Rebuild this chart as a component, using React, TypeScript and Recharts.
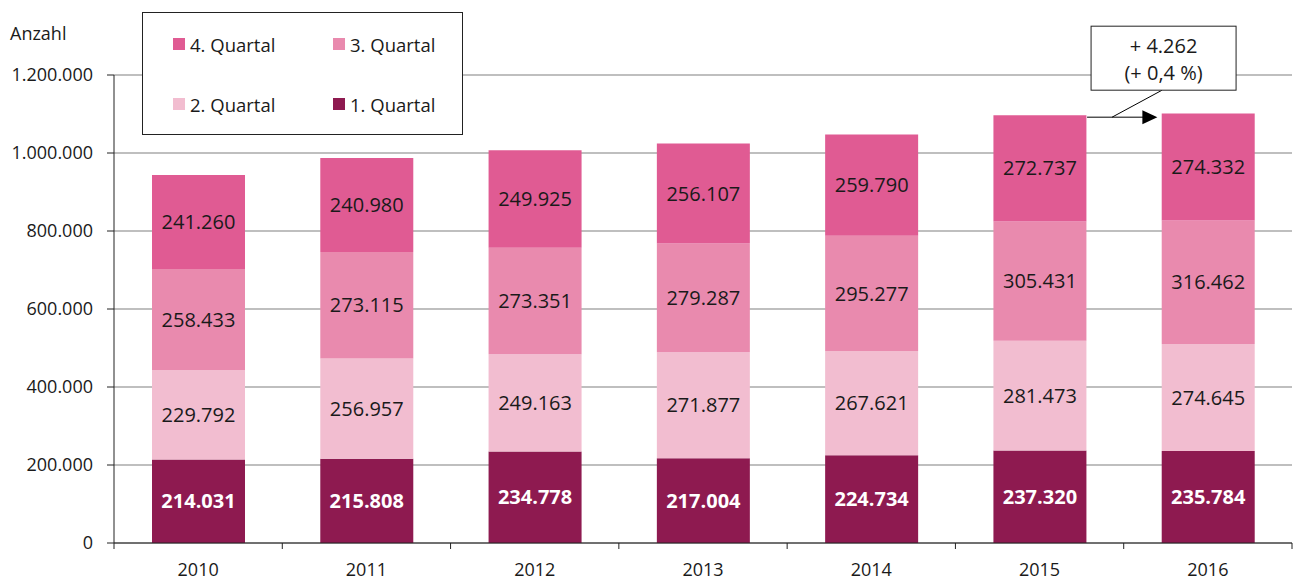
import React from 'react'
import {
  Bar,
  BarChart,
  CartesianGrid,
  LabelList,
  Legend,
  ReferenceLine,
  XAxis,
  YAxis,
} from 'recharts'

const years = ['2010', '2011', '2012', '2013', '2014', '2015', '2016']
const q1 = [214031, 215808, 234778, 217004, 224734, 237320, 235784]
const q2 = [229792, 256957, 249163, 271877, 267621, 281473, 274645]
const q3 = [258433, 273115, 273351, 279287, 295277, 305431, 316462]
const q4 = [241260, 240980, 249925, 256107, 259790, 272737, 274332]
const yTicks = [0, 200000, 400000, 600000, 800000, 1000000, 1200000]
const seriesNames = ['1. Quartal', '2. Quartal', '3. Quartal', '4. Quartal']
const yLabel = 'Anzahl'
const noteLines = ['+ 4.262', '(+ 0,4 %)']

const W = 1307
const H = 581
const FONT = '"Open Sans", "Noto Sans", sans-serif'
const COLORS = ['#8E1A50', '#F2BDD0', '#E98AAE', '#E05B93']
const BAR_SIZE = 93
const PLOT_LEFT = 114
const PLOT_RIGHT = 15

const data = years.map((y, i) => ({ year: y, q1: q1[i], q2: q2[i], q3: q3[i], q4: q4[i] }))
const total = (i: number) => q1[i] + q2[i] + q3[i] + q4[i]

const fmt = (v: any) => String(v).replace(/\B(?=(\d{3})+(?!\d))/g, '.')

const band = (W - PLOT_LEFT - PLOT_RIGHT) / years.length

// category label in the middle, tick marks on the category borders
const XTick = (props: any) => {
  const { x, y, payload, index } = props
  return (
    <g>
      <line x1={x - band / 2} x2={x - band / 2} y1={y} y2={y + 6} stroke="#222" />
      {index === years.length - 1 && (
        <line x1={x + band / 2} x2={x + band / 2} y1={y} y2={y + 6} stroke="#222" />
      )}
      <text x={x} y={y + 26} textAnchor="middle" dominantBaseline="central" fontSize={18} fill="#1a1a1a" fontFamily={FONT}>
        {payload.value}
      </text>
    </g>
  )
}

const Note = (props: any) => {
  const { x1, y1, x2 } = props
  const sx = x1 + BAR_SIZE / 2 + 1
  const tip = x2 - BAR_SIZE / 2 - 4
  const y = y1 + 2
  const bx = sx + 4
  const by = y - 91
  const bw = 145
  const bh = 64
  return (
    <g>
      <line x1={sx} y1={y} x2={tip - 14} y2={y} stroke="#000" strokeWidth={1} />
      <polygon points={`${tip},${y} ${tip - 15},${y - 7} ${tip - 15},${y + 7}`} fill="#000" />
      <line x1={sx + 25} y1={y} x2={bx + 71} y2={by + bh} stroke="#000" strokeWidth={1} />
      <rect x={bx} y={by} width={bw} height={bh} fill="#fff" stroke="#222" strokeWidth={1} />
      {noteLines.map((t, i) => (
        <text key={t} x={bx + bw / 2} y={by + 19 + i * 27} textAnchor="middle" dominantBaseline="central" fontSize={20} fill="#1a1a1a" fontFamily={FONT}>
          {t}
        </text>
      ))}
    </g>
  )
}

const legendOrder = [3, 2, 1, 0]

const LegendBox = () => (
  <div
    style={{
      width: 321,
      height: 123,
      boxSizing: 'border-box',
      border: '1px solid #222',
      background: '#fff',
      display: 'grid',
      gridTemplateColumns: '160px 130px',
      gridTemplateRows: '60px 60px',
      padding: '1px 0 0 30px',
      fontFamily: FONT,
      fontSize: 18.5,
      color: '#1a1a1a',
    }}
  >
    {legendOrder.map((k) => (
      <div key={k} style={{ display: 'flex', alignItems: 'center' }}>
        <span style={{ width: 12, height: 12, background: COLORS[k], marginRight: 5, display: 'inline-block' }} />
        {seriesNames[k]}
      </div>
    ))}
  </div>
)

export default function App() {
  const keys = ['q1', 'q2', 'q3', 'q4']
  return (
    <div style={{ position: 'absolute', left: 0, top: 0, width: W, height: H, background: '#fff' }}>
      <div style={{ position: 'absolute', left: 10, top: 21, fontFamily: FONT, fontSize: 18, color: '#1a1a1a' }}>
        {yLabel}
      </div>
      <BarChart
        width={W}
        height={H}
        data={data}
        margin={{ top: 75, right: PLOT_RIGHT, bottom: 0, left: 0 }}
        barSize={BAR_SIZE}
      >
        <CartesianGrid vertical={false} stroke="#808080" strokeWidth={1.2} />
        <XAxis
          dataKey="year"
          height={38}
          axisLine={{ stroke: '#222' }}
          tickLine={false}
          tickSize={0}
          tickMargin={0}
          tick={<XTick />}
          interval={0}
        />
        <YAxis
          width={PLOT_LEFT}
          domain={[0, 1200000]}
          ticks={yTicks}
          tickFormatter={fmt}
          axisLine={{ stroke: '#222' }}
          tickLine={{ stroke: '#222' }}
          tickSize={7}
          tickMargin={14}
          tick={{ fontSize: 18, fill: '#1a1a1a', fontFamily: FONT }}
          interval={0}
        />
        {keys.map((k, i) => (
          <Bar key={k} dataKey={k} name={seriesNames[i]} stackId="a" fill={COLORS[i]} isAnimationActive={false}>
            <LabelList
              dataKey={k}
              position="center"
              formatter={fmt}
              fill={i === 0 ? '#fff' : '#1a1a1a'}
              fontSize={20}
              fontWeight={i === 0 ? 700 : 400}
              fontFamily={FONT}
            />
          </Bar>
        ))}
        <ReferenceLine
          segment={[
            { x: years[5], y: total(5) },
            { x: years[6], y: total(5) },
          ]}
          ifOverflow="visible"
          shape={<Note />}
        />
        <Legend
          layout="horizontal"
          verticalAlign="middle"
          align="center"
          wrapperStyle={{ left: 142, top: 12, width: 321, height: 123 }}
          content={<LegendBox />}
        />
      </BarChart>
    </div>
  )
}
